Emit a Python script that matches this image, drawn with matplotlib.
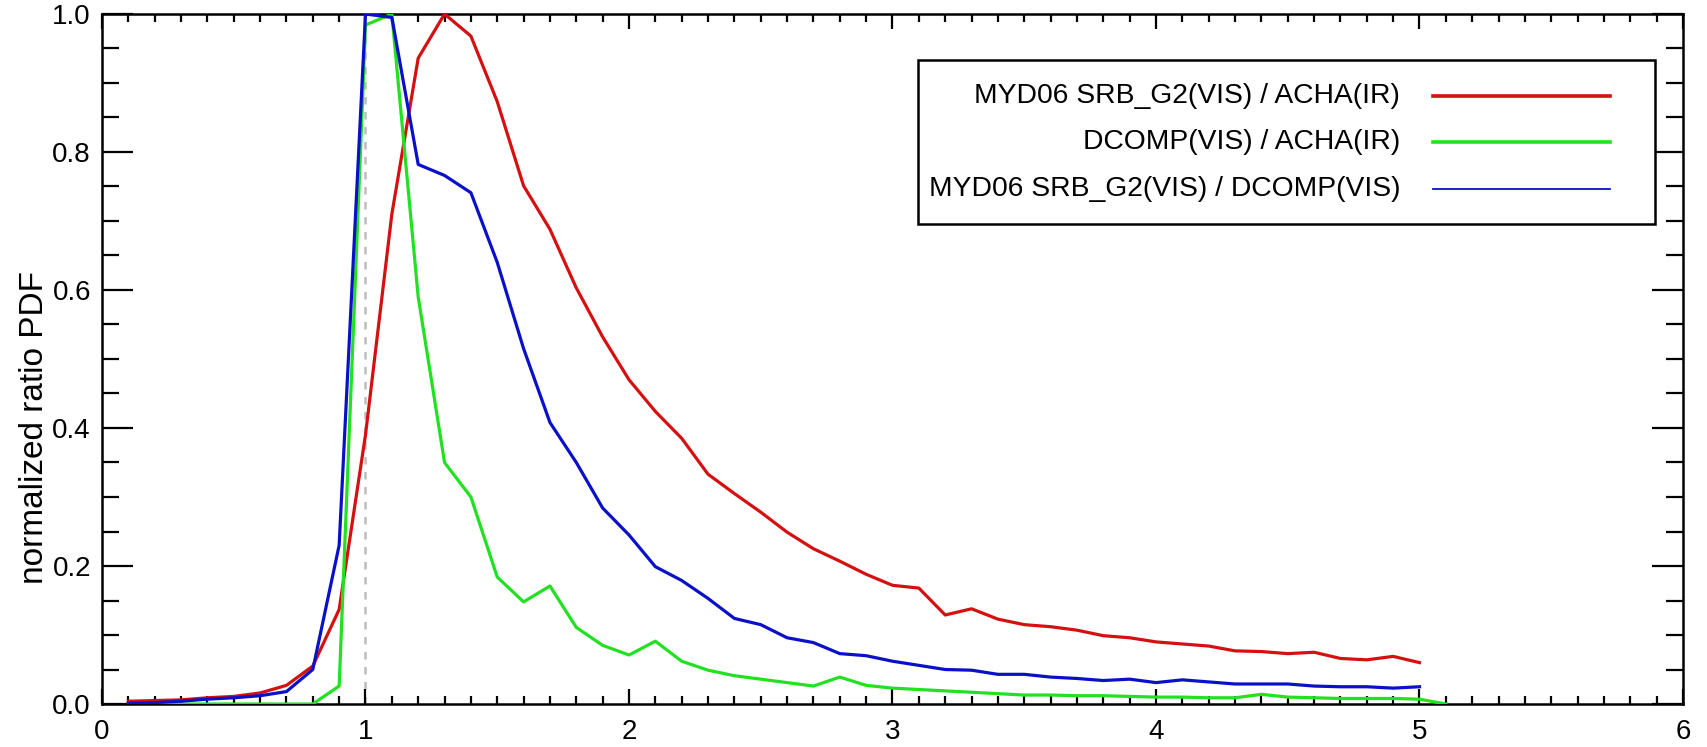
import matplotlib
matplotlib.use("Agg")
import matplotlib.pyplot as plt
from matplotlib.ticker import MultipleLocator, FormatStrFormatter
from matplotlib.patches import Rectangle
from matplotlib.lines import Line2D

plt.rcParams['font.family'] = ['Liberation Sans', 'DejaVu Sans']

# ratio bins
x_bins = [0.1, 0.2, 0.3, 0.4, 0.5, 0.6, 0.7, 0.8, 0.9, 1.0,
          1.1, 1.2, 1.3, 1.4, 1.5, 1.6, 1.7, 1.8, 1.9, 2.0,
          2.1, 2.2, 2.3, 2.4, 2.5, 2.6, 2.7, 2.8, 2.9, 3.0,
          3.1, 3.2, 3.3, 3.4, 3.5, 3.6, 3.7, 3.8, 3.9, 4.0,
          4.1, 4.2, 4.3, 4.4, 4.5, 4.6, 4.7, 4.8, 4.9, 5.0, 5.1]

srb_acha = [0.004, 0.005, 0.006, 0.009, 0.011, 0.016, 0.027, 0.055, 0.137, 0.39,
            0.71, 0.936, 1.0, 0.968, 0.873, 0.751, 0.688, 0.603, 0.532, 0.47,
            0.424, 0.385, 0.333, 0.305, 0.278, 0.249, 0.225, 0.207, 0.188, 0.172,
            0.168, 0.129, 0.138, 0.123, 0.115, 0.112, 0.107, 0.099, 0.096, 0.090,
            0.087, 0.084, 0.077, 0.076, 0.073, 0.075, 0.066, 0.064, 0.069, 0.060]

dcomp_acha = [0.0, 0.0, 0.0, 0.0, 0.0, 0.0, 0.0, 0.0, 0.026, 0.984,
              1.0, 0.59, 0.35, 0.30, 0.184, 0.148, 0.171, 0.111, 0.085, 0.071,
              0.091, 0.062, 0.049, 0.041, 0.036, 0.031, 0.026, 0.039, 0.027, 0.023,
              0.021, 0.019, 0.017, 0.015, 0.013, 0.013, 0.012, 0.012, 0.011, 0.010,
              0.010, 0.009, 0.009, 0.014, 0.010, 0.009, 0.008, 0.008, 0.008, 0.007, 0.0]

srb_dcomp = [0.001, 0.002, 0.004, 0.007, 0.009, 0.012, 0.018, 0.05, 0.23, 1.0,
             0.995, 0.782, 0.766, 0.741, 0.64, 0.515, 0.408, 0.35, 0.284, 0.245,
             0.199, 0.179, 0.153, 0.124, 0.115, 0.096, 0.089, 0.073, 0.070, 0.062,
             0.056, 0.050, 0.049, 0.043, 0.043, 0.039, 0.037, 0.034, 0.036, 0.031,
             0.035, 0.032, 0.029, 0.029, 0.029, 0.026, 0.025, 0.025, 0.023, 0.025]

labels = ["MYD06 SRB_G2(VIS) / ACHA(IR)",
          "DCOMP(VIS) / ACHA(IR)",
          "MYD06 SRB_G2(VIS) / DCOMP(VIS)"]
colors = ["#d41010", "#22e022", "#0a10c8"]
y_ticks = [0.0, 0.2, 0.4, 0.6, 0.8, 1.0]
x_ticks = [0, 1, 2, 3, 4, 5, 6]

W, H = 1708, 747
fig = plt.figure(figsize=(W / 100, H / 100), dpi=100)
ax = fig.add_axes([102 / W, (H - 704) / H, 1581 / W, 690 / H])

ax.plot([1, 1], [0, 1], color="#bdbdbd", lw=1.8, ls=(0, (3, 3)), zorder=1)
ax.plot(x_bins[:len(srb_acha)], srb_acha, color=colors[0], lw=2.3, zorder=3)
ax.plot(x_bins[:len(dcomp_acha)], dcomp_acha, color=colors[1], lw=2.3, zorder=3)
ax.plot(x_bins[:len(srb_dcomp)], srb_dcomp, color=colors[2], lw=2.3, zorder=3)

ax.set_xlim(0, 6)
ax.set_ylim(0, 1)
ax.set_xticks(x_ticks)
ax.set_yticks(y_ticks)
ax.yaxis.set_major_formatter(FormatStrFormatter('%.1f'))
ax.xaxis.set_minor_locator(MultipleLocator(0.1))
ax.yaxis.set_minor_locator(MultipleLocator(0.05))

ax.tick_params(axis='both', which='both', direction='in', top=True, right=True,
               color='black', labelsize=20)
ax.tick_params(axis='x', which='major', length=11, width=1.6, pad=11)
ax.tick_params(axis='x', which='minor', length=6, width=1.6)
ax.tick_params(axis='y', which='major', length=22, width=1.6, pad=8)
ax.tick_params(axis='y', which='minor', length=12, width=1.6)
for s in ax.spines.values():
    s.set_linewidth(1.8)

ax.set_ylabel("normalized ratio PDF", fontsize=24)
ax.yaxis.set_label_coords(-0.033, 0.40)

# legend box (drawn in axes coordinates)
box_l, box_r, box_b, box_t = 0.516, 0.982, 0.696, 0.933
ax.add_patch(Rectangle((box_l, box_b), box_r - box_l, box_t - box_b,
                       transform=ax.transAxes, fill=True, facecolor='white',
                       edgecolor='black', lw=1.8, zorder=5))
rows_y = [0.881, 0.814, 0.746]
legend_lw = [2.6, 2.6, 1.3]
for lab, col, ry, lw in zip(labels, colors, rows_y, legend_lw):
    ax.add_line(Line2D([0.842, 0.954], [ry, ry], transform=ax.transAxes,
                       color=col, lw=lw, zorder=6))
    ax.text(0.821, ry, lab, transform=ax.transAxes, ha='right', va='center',
            fontsize=20.3, zorder=6)

fig.savefig("out.png", dpi=100)
